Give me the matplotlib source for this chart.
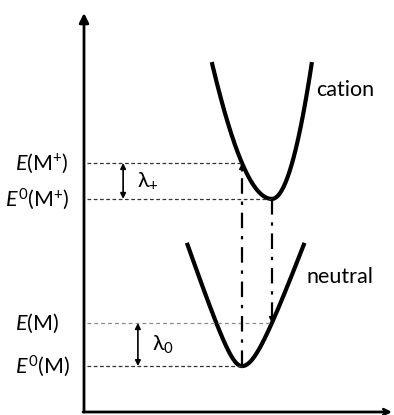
import numpy as np
import matplotlib
matplotlib.use("Agg")
import matplotlib.pyplot as plt

plt.rcParams['font.family'] = ['Lato', 'DejaVu Sans']
plt.rcParams['mathtext.fontset'] = 'custom'
plt.rcParams['mathtext.rm'] = 'Lato'
plt.rcParams['mathtext.it'] = 'Lato:italic'
plt.rcParams['mathtext.bf'] = 'Lato:bold'
plt.rcParams['mathtext.fallback'] = 'stixsans'

# ---- data (schematic: x = nuclear coordinate Q, y = energy) ----
level_keys = ["E0_M", "E_M", "E0_Mp", "E_Mp"]
level_labels = [r"$E^{0}$(M)", r"$E$(M)", r"$E^{0}$(M$^{+}$)", r"$E$(M$^{+}$)"]
level_values = [1.15, 2.23, 5.34, 6.24]

well_names = ["neutral", "cation"]
well_Q0 = [5.13, 6.10]          # position of minimum
well_Emin = [1.15, 5.34]        # minimum energy
well_Etop = [4.24, 8.77]        # energy where the drawn curve ends
well_left = [(1.10, 0.487), (20.0, 3.2)]    # (amplitude, width) of left branch
well_right = [(1.353, 0.649), (43.2, 3.2)]  # (amplitude, width) of right branch

lambda_labels = [r"$\mathrm{\lambda}_{0}$", r"$\mathrm{\lambda}_{+}$"]

lv = dict(zip(level_keys, level_values))

FS = 15.5


def branch(Q0, Emin, A, w, Etop, side):
    dq_max = w * np.sqrt((1 + (Etop - Emin) / A) ** 2 - 1)
    dq = np.linspace(0, dq_max, 200)
    E = Emin + A * (np.sqrt(1 + (dq / w) ** 2) - 1)
    return Q0 + side * dq, E


fig = plt.figure(figsize=(3.94, 4.15), dpi=100)
ax = fig.add_axes([84 / 394, 3 / 415, 308 / 394, 399 / 415])
ax.set_xlim(0, 10)
ax.set_ylim(0, 10)
ax.axis('off')

# axes arrows
ax.annotate('', xy=(0, 10), xytext=(0, 0),
            arrowprops=dict(arrowstyle='-|>', lw=2, color='black',
                            mutation_scale=14, shrinkA=0, shrinkB=0),
            annotation_clip=False)
ax.annotate('', xy=(10, 0), xytext=(-0.03, 0),
            arrowprops=dict(arrowstyle='->', lw=2, color='black',
                            mutation_scale=10, shrinkA=0, shrinkB=0),
            annotation_clip=False)

# potential wells
for i, name in enumerate(well_names):
    for (A, w), side in ((well_left[i], -1), (well_right[i], 1)):
        q, e = branch(well_Q0[i], well_Emin[i], A, w, well_Etop[i], side)
        ax.plot(q, e, color='black', lw=3, solid_capstyle='butt')

Qn, Qc = well_Q0
# dashed level lines
x0 = 0.1
ax.plot([x0, Qn], [lv["E_Mp"]] * 2, ls=(0, (3, 2)), color='#333333', lw=0.9)
ax.plot([x0, Qc], [lv["E0_Mp"]] * 2, ls=(0, (3, 2)), color='#333333', lw=0.9)
ax.plot([x0, Qc], [lv["E_M"]] * 2, ls=(0, (3, 2.5)), color='#8a8a8a', lw=0.9)
ax.plot([x0, Qn], [lv["E0_M"]] * 2, ls=(0, (3, 2)), color='#333333', lw=0.9)

# vertical transitions (dash-dot)
dd = (0, (7, 3.5, 1.5, 3.5))
ax.plot([Qn, Qn], [lv["E0_M"], lv["E_Mp"] - 0.1], ls=dd, color='black', lw=1.6)
ax.annotate('', xy=(Qn, lv["E_Mp"]), xytext=(Qn, lv["E_Mp"] - 0.2),
            arrowprops=dict(arrowstyle='-|>', lw=1.2, color='black',
                            mutation_scale=8, shrinkA=0, shrinkB=0))
ax.plot([Qc, Qc], [lv["E0_Mp"], lv["E_M"] + 0.1], ls=dd, color='black', lw=1.6)
ax.annotate('', xy=(Qc, lv["E_M"]), xytext=(Qc, lv["E_M"] + 0.2),
            arrowprops=dict(arrowstyle='-|>', lw=1.2, color='black',
                            mutation_scale=8, shrinkA=0, shrinkB=0))

# reorganisation energy arrows
lam_x = [1.75, 1.27]
lam_pairs = [("E0_M", "E_M"), ("E0_Mp", "E_Mp")]
for x, (lo, hi), lab in zip(lam_x, lam_pairs, lambda_labels):
    ax.annotate('', xy=(x, lv[hi]), xytext=(x, lv[lo]),
                arrowprops=dict(arrowstyle='<|-|>', lw=1.2, color='black',
                                mutation_scale=8, shrinkA=0, shrinkB=0))
    ax.text(x + 0.45, (lv[hi] + lv[lo]) / 2, lab, fontsize=FS,
            ha='left', va='center')

# level labels
label_x = [-2.24, -2.24, -2.56, -2.24]
for x, lab, v in zip(label_x, level_labels, level_values):
    ax.text(x, v, lab, fontsize=FS, ha='left', va='center', clip_on=False)

# well labels
ax.text(7.53, 8.07, well_names[1], fontsize=FS, ha='left', va='center')
ax.text(7.24, 3.38, well_names[0], fontsize=FS, ha='left', va='center')

fig.savefig('out.png', dpi=100)
